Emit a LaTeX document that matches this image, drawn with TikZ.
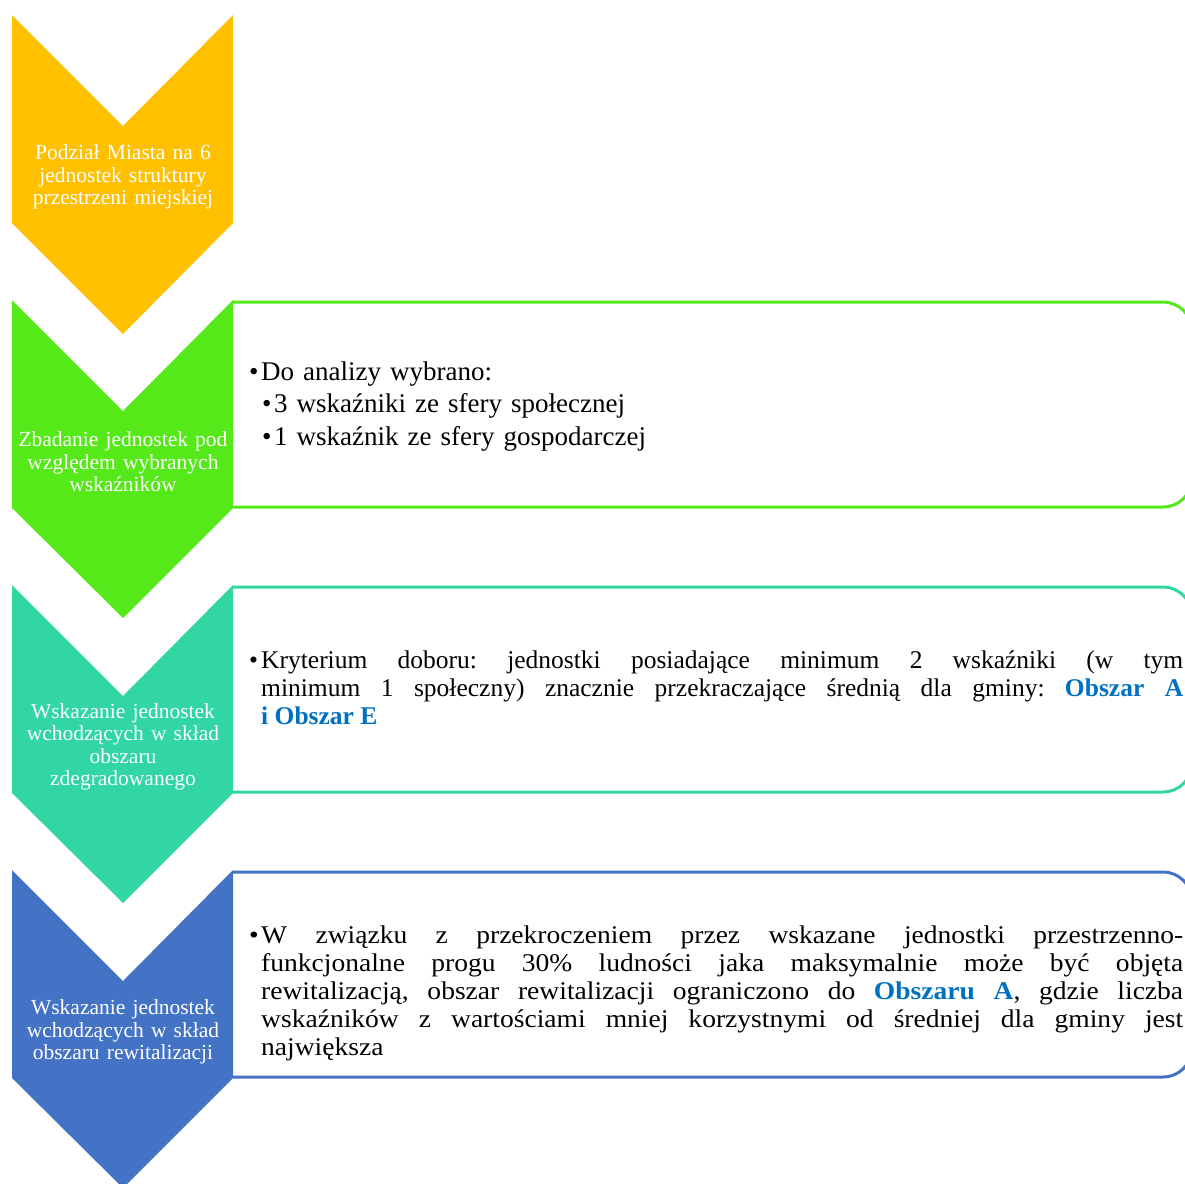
\documentclass[tikz,border=0pt]{standalone}
\usepackage{fontspec}
\setmainfont{Liberation Serif}
\newfontfamily\widefont[FakeStretch=1.08]{Liberation Serif}
\definecolor{stepgold}{HTML}{FFC000}
\definecolor{stepgreen}{RGB}{86,233,26}
\definecolor{stepteal}{RGB}{49,214,163}
\definecolor{stepblue}{HTML}{4472C4}
\definecolor{obszarblue}{HTML}{0070C0}
\newcommand{\pkt}{\makebox[12pt][l]{\textbullet}}
\frenchspacing

\begin{document}
\begin{tikzpicture}[x=1pt,y=-1pt,
  chevtext/.style={text=white,align=center,text width=221pt,inner sep=0pt,font=\fontsize{21.5}{22.5}\selectfont},
  boxtext/.style={anchor=base west,inner sep=0pt,text width=934pt,align=justify,font=\fontsize{25.5}{28}\selectfont},
  frame/.style={line width=3pt,rounded corners=29pt}]
% Page size
\useasboundingbox (0,0) rectangle (1185,1183);
% Draw frames right of the chevrons
\draw[frame,stepgreen] (233,302) -- (1192,302) -- (1192,507) -- (233,507);
\draw[frame,stepteal] (233,587) -- (1192,587) -- (1192,792) -- (233,792);
\draw[frame,stepblue] (233,872) -- (1192,872) -- (1192,1077) -- (233,1077);
% Draw chevrons
\fill[stepgold] (12,15) -- (123,126) -- (233,15) -- (233,223) -- (123,334) -- (12,223) -- cycle;
\fill[stepgreen] (12,300) -- (123,411) -- (233,300) -- (233,508) -- (123,618) -- (12,508) -- cycle;
\fill[stepteal] (12,585) -- (123,696) -- (233,585) -- (233,793) -- (123,903) -- (12,793) -- cycle;
\fill[stepblue] (12,870) -- (123,981) -- (233,870) -- (233,1078) -- (123,1188) -- (12,1078) -- cycle;
% Chevron labels
\node[chevtext] (podzial) at (123,177) {Podział Miasta na 6\\jednostek struktury\\przestrzeni miejskiej};
\node[chevtext] (zbadanie) at (123,462) {Zbadanie jednostek pod\\względem wybranych\\wskaźników};
\node[chevtext] (wskazanie-zdeg) at (123,747) {Wskazanie jednostek\\wchodzących w skład\\obszaru\\zdegradowanego};
\node[chevtext] (wskazanie-rewit) at (123,1032) {Wskazanie jednostek\\wchodzących w skład\\obszaru rewitalizacji};
% Frame texts
\node[boxtext,align=left,font=\fontsize{27}{32.5}\selectfont] (analiza) at (249,380)
  {\pkt Do analizy wybrano:\\
   \hspace*{13pt}\pkt 3 wskaźniki ze sfery społecznej\\
   \hspace*{13pt}\pkt 1 wskaźnik ze sfery gospodarczej};
\node[boxtext] (kryterium) at (249,668)
  {\sloppy\hangindent=12pt\hangafter=1
   \pkt Kryterium doboru: jednostki posiadające minimum 2 wskaźniki (w~tym\linebreak
   minimum 1 społeczny) znacznie przekraczające średnią dla gminy: \textbf{\color{obszarblue}Obszar~A}\linebreak
   \textbf{\color{obszarblue}i Obszar E}\par};
\node[boxtext,font=\widefont\fontsize{25.5}{28}\selectfont] (ograniczenie) at (249,943)
  {\sloppy\hangindent=12pt\hangafter=1
   \pkt W związku z przekroczeniem przez wskazane jednostki przestrzenno-\linebreak
   funkcjonalne progu 30\% ludności jaka maksymalnie może być objęta\linebreak
   rewitalizacją, obszar rewitalizacji ograniczono do \textbf{\color{obszarblue}Obszaru A}, gdzie liczba\linebreak
   wskaźników z wartościami mniej korzystnymi od średniej dla gminy jest\linebreak
   największa\par};
\end{tikzpicture}
\end{document}
